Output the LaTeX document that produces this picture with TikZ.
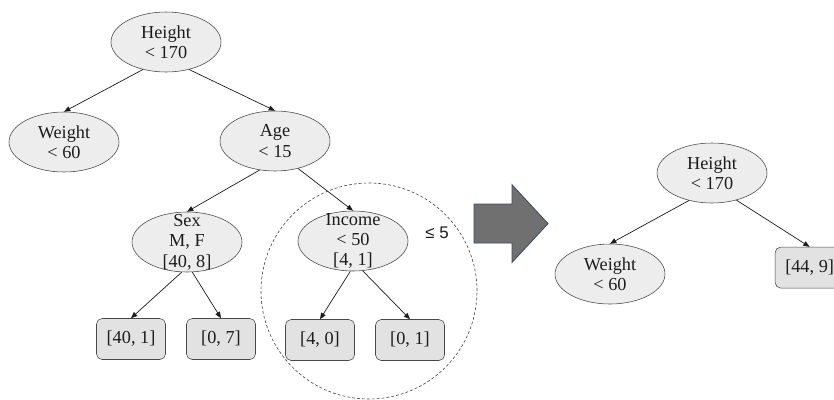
\documentclass[tikz,border=0pt]{standalone}
\usepackage{fontspec}
\setmainfont{Liberation Serif}
\newfontfamily\symfam{Liberation Sans}
\usetikzlibrary{arrows.meta, shapes.geometric}
\definecolor{ink}{RGB}{28,28,28}
\definecolor{rim}{RGB}{72,72,72}
\definecolor{pale}{RGB}{237,237,237}
\definecolor{leaf}{RGB}{226,226,226}
\definecolor{bulk}{RGB}{112,112,112}
\definecolor{bulkrim}{RGB}{62,74,94}

\begin{document}
\begin{tikzpicture}[
    font=\fontsize{13}{14.5}\selectfont, >={Triangle[length=4.5pt,width=3.6pt]},
    cond/.style={ellipse,draw=rim,fill=pale,minimum width=2.75cm,
                 minimum height=1.5cm,inner sep=0pt},
    txt/.style={align=center,text=ink,inner sep=0pt},
    lf/.style={rectangle,draw=rim,fill=leaf,rounded corners=4pt,
               minimum width=1.725cm,minimum height=1.025cm,text=ink},
    br/.style={->,ink,line width=0.5pt}]
  \useasboundingbox (0,0) rectangle (20.85,-9.975);

  % full tree
  \node[cond,label={[txt]center:Height\\< 170}] (h1) at (4.15,-1.05) {};
  \node[cond,label={[txt]center:Weight\\< 60}] (w1) at (1.60,-3.55) {};
  \node[cond,label={[txt]center:Age\\< 15}] (a1) at (6.875,-3.525) {};
  \node[cond,label={[txt]center:Sex\\M, F\\{[40, 8]}}] (s1) at (4.675,-6.05) {};
  \node[cond,label={[txt]center:Income\\< 50\\{[4, 1]}}] (i1) at (8.825,-6.025) {};
  \node[lf] (l1) at (3.275,-8.475) {[40, 1]};
  \node[lf] (l2) at (5.525,-8.475) {[0, 7]};
  \node[lf] (l3) at (8.0,-8.5) {[4, 0]};
  \node[lf] (l4) at (10.25,-8.5) {[0, 1]};

  \draw[br] (h1.-130) -- (w1.north);
  \draw[br] (h1.-50) -- (a1.north);
  \draw[br] (a1.-118) -- (s1.north);
  \draw[br] (a1.-50) -- (i1.north);
  \draw[br] (s1.-100) -- (l1.north);
  \draw[br] (s1.-80) -- (l2.north);
  \draw[br] (i1.-95) -- (l3.north);
  \draw[br] (i1.-72) -- (l4.north);

  % subtree to be pruned
  \node[circle,draw=rim,dashed,dash pattern=on 2pt off 1.5pt,line width=0.45pt,
        minimum size=5.4cm,inner sep=0pt] (grp) at (9.225,-7.275) {};
  \node[font=\symfam\fontsize{12}{14}\selectfont,text=ink] (thr) at (10.925,-5.825) {≤ 5};

  \filldraw[fill=bulk,draw=bulkrim,line width=0.6pt]
    (11.85,-5.1) -- (12.8,-5.1) -- (12.8,-4.62) -- (13.7,-5.59)
    -- (12.8,-6.56) -- (12.8,-6.075) -- (11.85,-6.075) -- cycle;

  % pruned tree
  \node[cond,label={[txt]center:Height\\< 170}] (h2) at (17.8,-4.325) {};
  \node[cond,label={[txt]center:Weight\\< 60}] (w2) at (15.25,-6.85) {};
  \node[lf] (l5) at (20.24,-6.69) {[44, 9]};

  \draw[br] (h2.-130) -- (w2.north);
  \draw[br] (h2.-48) -- (l5.north);
\end{tikzpicture}
\end{document}
